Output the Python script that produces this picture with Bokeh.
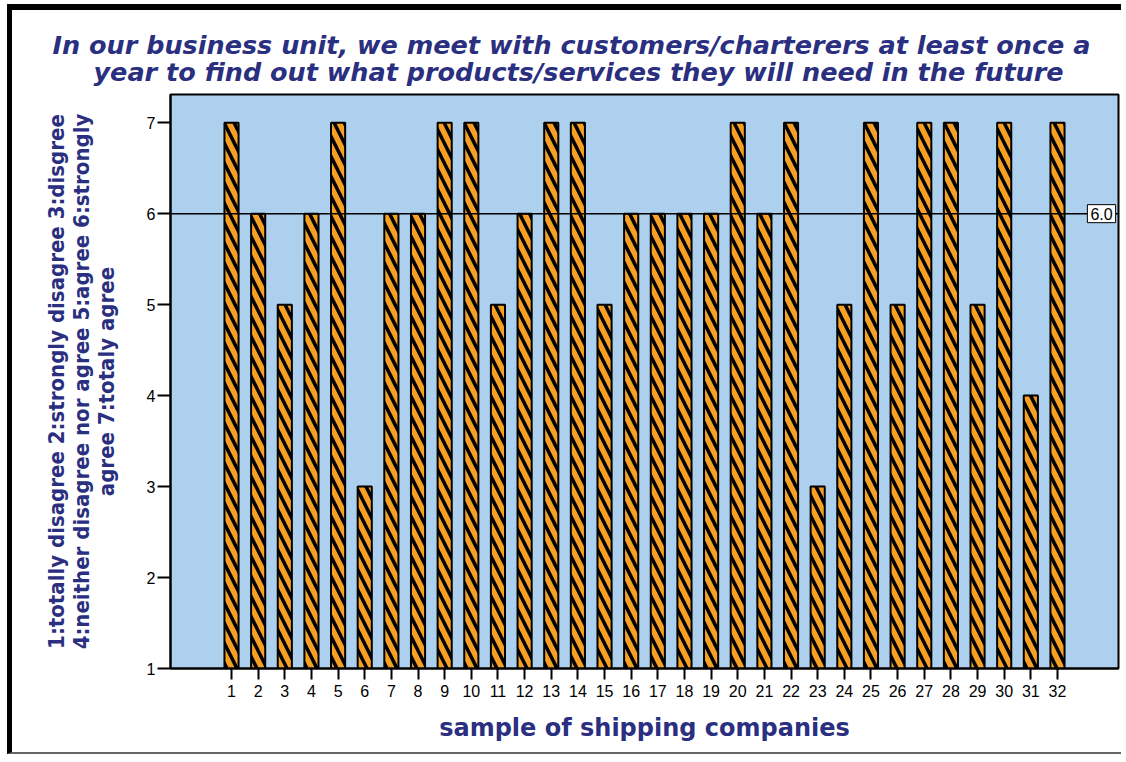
from bokeh.plotting import figure
from bokeh.models import Range1d, Label, Span, FixedTicker, Title
from bokeh.embed import file_html
from bokeh.resources import INLINE

# ---- data ----
companies = list(range(1, 33))
scores = [7, 6, 5, 6, 7, 3, 6, 6, 7, 7, 5, 6, 7, 7, 5, 6,
          6, 6, 6, 7, 6, 7, 3, 5, 7, 5, 7, 7, 5, 7, 4, 7]
y_ticks = [1, 2, 3, 4, 5, 6, 7]
ref_value = 6.0
title_lines = ["In our business unit, we meet with customers/charterers at least once a",
               "year to find out what products/services they will need in the future"]
ylabel_lines = ["1:totally disagree 2:strongly disagree 3:disgree",
                "4:neither disagree nor agree 5:agree 6:strongly",
                "agree 7:totaly agree"]
xlabel = "sample of shipping companies"

NAVY = "#2A2F7F"
FONT = "Liberation Sans"
WIDE = "DejaVu Sans"

p = figure(width=1114, height=750, output_backend="svg", toolbar_location=None,
           x_range=Range1d(-1.29, 34.29), y_range=Range1d(1, 7.31),
           min_border_left=158, min_border_right=8, min_border_top=84, min_border_bottom=92)
p.styles = {"margin-top": "4px", "margin-left": "7px",
            "border-top": "6px solid black", "border-left": "5px solid black",
            "border-bottom": "2px solid #666666"}

p.background_fill_color = "#ADD0EE"
p.border_fill_color = "white"
p.outline_line_color = "black"
p.outline_line_width = 2
p.grid.visible = False

p.vbar(x=companies, bottom=1, top=scores, width=0.53,
       fill_color="#F7A023", line_color="black", line_width=2,
       hatch_pattern="\\", hatch_color="black", hatch_weight=3.5, hatch_scale=20)

p.add_layout(Span(location=ref_value, dimension="width", line_color="black", line_width=1.5))

for ax in (p.xaxis[0], p.yaxis[0]):
    ax.axis_line_color = "black"
    ax.axis_line_width = 2
    ax.major_tick_line_color = "black"
    ax.major_tick_line_width = 2
    ax.minor_tick_line_color = None
    ax.major_tick_in = 0
    ax.major_label_text_font = FONT
    ax.major_label_text_font_size = "16px"
    ax.major_label_text_color = "black"
    ax.axis_label_text_color = NAVY
    ax.axis_label_text_font_style = "bold"

p.yaxis.major_tick_out = 13
p.yaxis.major_label_standoff = 2
p.xaxis.major_tick_out = 11
p.xaxis.major_label_standoff = 5

p.xaxis.ticker = FixedTicker(ticks=companies)
p.yaxis.ticker = FixedTicker(ticks=y_ticks)

p.yaxis.axis_label = "\n".join(ylabel_lines)
p.yaxis.axis_label_text_font = "DejaVu Sans Condensed"
p.yaxis.axis_label_text_font_size = "22px"
p.yaxis.axis_label_text_line_height = 1.0
p.yaxis.axis_label_standoff = 25

p.xaxis.axis_label = xlabel
p.xaxis.axis_label_text_font = WIDE
p.xaxis.axis_label_text_font_size = "24px"
p.xaxis.axis_label_standoff = 14

# title (two lines, later-added goes further out)
for t, off, so in [(title_lines[1], -77, 16), (title_lines[0], -118, -26)]:
    p.add_layout(Title(text=t, align="left", offset=off, standoff=so,
                       text_font=WIDE, text_font_size="25.5px", text_font_style="bold italic",
                       text_color=NAVY), "above")

# reference value label
p.add_layout(Label(x=931, y=ref_value, x_units="screen", y_units="data", text=f"{ref_value:.1f}",
                   text_font=FONT, text_font_size="16px", text_color="black",
                   text_align="center", text_baseline="middle",
                   background_fill_color="white", border_line_color="black", border_line_width=1,
                   padding=3))

open("out.html", "w").write(file_html(p, INLINE))
